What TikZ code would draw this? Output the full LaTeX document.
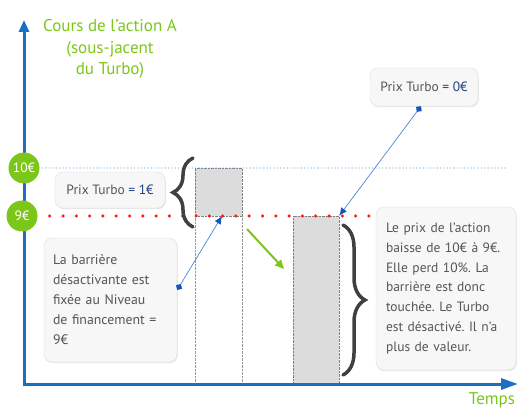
\documentclass[tikz,border=0pt]{standalone}
\usepackage{fontspec}
\setmainfont{PT Sans}
\usetikzlibrary{arrows.meta,positioning,decorations.pathreplacing,shadows}
\definecolor{axisblue}{HTML}{1A6FC4}
\definecolor{lineblue}{HTML}{4A86D8}
\definecolor{tipblue}{HTML}{1256B8}
\definecolor{dotblue}{HTML}{6AAFE6}
\definecolor{leafgreen}{HTML}{7CC61A}
\definecolor{textgray}{HTML}{555555}
\definecolor{navy}{HTML}{1F3F86}
\definecolor{bargray}{HTML}{DCDCDC}
\definecolor{bracegray}{HTML}{404040}
\definecolor{dotred}{HTML}{FF1A1A}
\frenchspacing

\begin{document}
\begin{tikzpicture}[x=1pt, y=-1pt, >=Latex, font=\fontsize{13.8}{20}\selectfont,
  note/.style={draw=gray!25, rounded corners=8pt, fill=gray!6, text=textgray, inner sep=0pt,
    drop shadow={opacity=0.18, shadow xshift=0.8pt, shadow yshift=-1.2pt}},
  level/.style={circle, fill=leafgreen, text=white, minimum size=31pt, inner sep=0pt, font=\fontsize{13.5}{13.5}\selectfont},
  bar/.style={draw=gray, densely dotted, fill=bargray, inner sep=0pt},
  guide/.style={draw=gray!80, densely dotted},
  pointer/.style={draw=lineblue, line width=0.7pt, {Diamond[length=7pt,width=7pt,color=tipblue]}-{Latex[length=8pt,width=7pt,color=tipblue]}},
  curly/.style={draw=bracegray, line width=3.5pt, line cap=round, decorate}]
\useasboundingbox (0,0) rectangle (530,414);

% axes
\coordinate (origin) at (24,384);
\coordinate (ytop) at (24,20);
\coordinate (xend) at (518,384);

% bars and time guides
\node[bar, minimum width=47pt, minimum height=48pt] (before) at (218.5,192) {};
\node[bar, minimum width=46pt, minimum height=168pt] (after) at (316,300) {};
\draw[guide] (before.south west) -- (before.south west |- origin);
\draw[guide] (before.south east) -- (before.south east |- origin);

\draw[axisblue, line width=3pt, {Triangle[length=12pt,width=10pt]}-{Triangle[length=17pt,width=11pt]}] (ytop) -- (origin) -- (xend);

% levels
\node[level] (ten) at (24,168) {10€};
\node[level] (nine) at (22,216) {9€};
\coordinate (tenend) at (508,168);
\coordinate (nineend) at (370,216);
\draw[dotblue, line width=1.3pt, line cap=round, dash pattern=on 0pt off 3.4pt] ([xshift=3pt]ten.east) -- (tenend);
\draw[dotred, line width=3.5pt, line cap=round, dash pattern=on 0pt off 13.3pt] ([xshift=12pt]nine.east) -- (nineend);

% titles
\node[text=leafgreen, align=center, font=\fontsize{17}{21.5}\selectfont] (ytitle) at (110,49) {Cours de l’action A\\(sous-jacent\\du Turbo)};
\node[text=leafgreen, font=\fontsize{17}{17}\selectfont] (xtitle) at (492,400) {Temps};

% notes
\node[note, minimum width=110pt, minimum height=36pt, font=\fontsize{13.5}{20}\selectfont] (p1) at (110,190) {Prix Turbo \textcolor{navy}{= 1€}};
\node[note, minimum width=108pt, minimum height=38pt, font=\fontsize{13.5}{20}\selectfont] (p0) at (424,87) {Prix Turbo \textcolor{navy}{= 0€}};
\node[note, minimum width=133pt, minimum height=124pt, text width=115pt, align=left] (barrier) at (110.5,300)
  {La barrière\\désactivante est\\fixée au Niveau\\de financement =\\9€};
\node[note, minimum width=140pt, minimum height=163pt, text width=120pt, align=left, font=\fontsize{13.5}{19.8}\selectfont] (result) at (446,288.5)
  {Le prix de l’action\\baisse de 10€ à 9€.\\Elle perd 10\%. La\\barrière est donc\\touchée. Le Turbo\\est désactivé. Il n’a\\plus de valeur.};

% braces
\draw[curly, decoration={brace, amplitude=20pt}] (193,227) -- (193,158);
\draw[curly, decoration={brace, amplitude=22pt}] (343,225) -- (343,375);

% pointers
\coordinate (hit1) at (222,216);
\draw[pointer] ([yshift=10pt]barrier.east) -- (hit1);
\draw[pointer] ([xshift=-3pt]p0.south) -- (after.north east);

% drop
\coordinate (dropA) at (247,229);
\coordinate (dropB) at (284,269);
\draw[leafgreen, line width=2pt, -{Triangle[length=9pt,width=8pt]}] (dropA) -- (dropB);
\end{tikzpicture}
\end{document}
